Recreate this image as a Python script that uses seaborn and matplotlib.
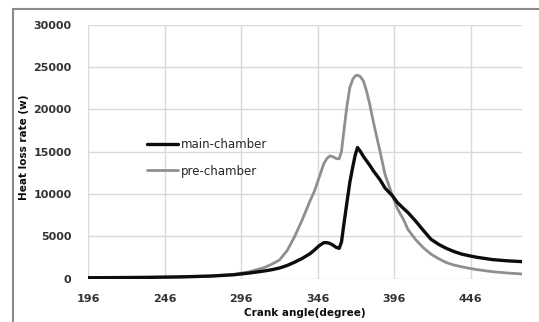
import numpy as np
import pandas as pd
import matplotlib
matplotlib.use("Agg")
import matplotlib.pyplot as plt
from matplotlib.lines import Line2D
import seaborn as sns

# Crank angle (degree) and heat loss rate (w) for each chamber
crank_angle = [196, 216, 236, 256, 276, 291, 301, 311, 316, 321, 326, 331, 336, 341,
               344, 347, 350, 352, 354, 356, 358, 360, 361.5, 363, 365, 367, 369, 370.5,
               372, 374, 376, 378, 380, 382.5, 385, 387, 390, 395, 398, 402, 405, 410,
               415, 420, 425, 430, 435, 440, 445, 450, 460, 470, 480]

main_chamber = [100, 120, 150, 200, 300, 450, 650, 900, 1050, 1250, 1550, 1950, 2400, 2950,
                3400, 3900, 4250, 4250, 4150, 3950, 3700, 3580, 4300, 6300, 8900, 11400, 13300, 14600,
                15500, 15000, 14400, 13900, 13400, 12700, 12100, 11600, 10700, 9750, 9000, 8300, 7800, 6800,
                5700, 4650, 4050, 3580, 3200, 2900, 2700, 2520, 2250, 2100, 2000]

pre_chamber = [100, 120, 150, 200, 300, 500, 800, 1300, 1700, 2200, 3300, 5000, 7000, 9200,
               10400, 12000, 13600, 14200, 14500, 14400, 14200, 14150, 15000, 17300, 20300, 22600, 23600, 23950,
               24050, 23850, 23300, 22100, 20600, 18400, 16400, 14800, 12300, 9700, 8300, 7000, 5800, 4600,
               3650, 2900, 2350, 1900, 1600, 1400, 1220, 1060, 820, 660, 540]

x_ticks = [196, 246, 296, 346, 396, 446]
y_ticks = [0, 5000, 10000, 15000, 20000, 25000, 30000]

df = pd.DataFrame({
    "angle": crank_angle * 2,
    "rate": main_chamber + pre_chamber,
    "series": ["main-chamber"] * len(crank_angle) + ["pre-chamber"] * len(crank_angle),
})

sns.set_style("white")
plt.rcParams["font.family"] = ["DejaVu Sans"]

fig = plt.figure(figsize=(5.39, 3.22), dpi=100)
ax = fig.add_axes([88.2 / 539, 1 - 278.6 / 322, (522 - 88.2) / 539, (278.6 - 24.8) / 322])

sns.lineplot(data=df, x="angle", y="rate", hue="series",
             palette={"main-chamber": "#0d0d0d", "pre-chamber": "#8f8f8f"},
             ax=ax, legend=False, sort=False)
ax.lines[0].set_linewidth(2.4)
ax.lines[1].set_linewidth(2.0)
# draw the darker series on top
ax.lines[0].set_zorder(4)
ax.lines[1].set_zorder(3)
for ln in ax.lines:
    ln.set_solid_joinstyle("round")

ax.set_xlim(196, 479.5)
ax.set_ylim(0, 30000)
ax.set_xticks(x_ticks)
ax.set_yticks(y_ticks)
ax.set_xticklabels([str(t) for t in x_ticks])
ax.set_yticklabels([str(t) for t in y_ticks])
ax.grid(True, color="#d9d9d9", linewidth=1.0)
for s in ax.spines.values():
    s.set_visible(False)
ax.tick_params(axis="x", length=4, color="#d9d9d9", pad=7, labelsize=8, labelcolor="#333333")
ax.tick_params(axis="y", length=0, pad=12, labelsize=8, labelcolor="#333333")
for lab in ax.get_xticklabels() + ax.get_yticklabels():
    lab.set_fontweight("bold")

ax.set_xlabel("")
ax.set_ylabel("")
fig.text(305 / 539, 1 - 313 / 322, "Crank angle(degree)", ha="center", va="center",
         fontsize=7.5, fontweight="bold", color="#0d0d0d")
fig.text(24 / 539, 1 - 147 / 322, "Heat loss rate (w)", ha="center", va="center",
         rotation=90, fontsize=7.5, fontweight="bold", color="#0d0d0d")

handles = [Line2D([], [], color="#0d0d0d", lw=2.4),
           Line2D([], [], color="#8f8f8f", lw=2.0)]
ax.legend(handles, ["main-chamber", "pre-chamber"], loc="upper left",
          bbox_to_anchor=(147 / 539, 1 - 138 / 322), bbox_transform=fig.transFigure,
          frameon=False, fontsize=8.5, handlelength=2.6, handletextpad=0.3,
          labelspacing=1.15, borderpad=0, borderaxespad=0, labelcolor="#262626")

# outer chart frame
frame_c = "#8a8a8a"
fig.add_artist(Line2D([13 / 539, 1], [1 - 9 / 322, 1 - 9 / 322], transform=fig.transFigure,
                      color=frame_c, lw=1.5))
fig.add_artist(Line2D([13 / 539, 13 / 539], [0, 1 - 9 / 322], transform=fig.transFigure,
                      color=frame_c, lw=1.5))

fig.savefig("out.png", dpi=100)
